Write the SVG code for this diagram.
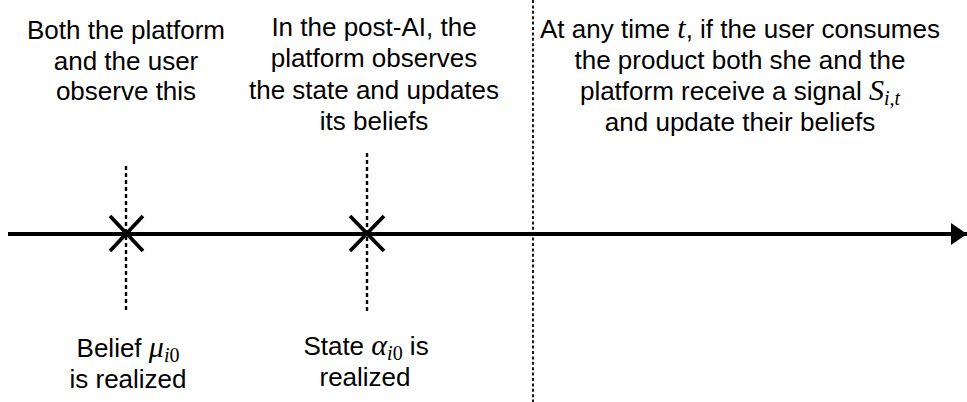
<svg xmlns="http://www.w3.org/2000/svg" width="967" height="402" viewBox="0 0 967 402">
  <style>
    .lbl { font-family: "Liberation Sans", Arial, Helvetica, sans-serif; font-size: 26px; fill: #000; text-anchor: middle; }
    .m { font-family: "Liberation Serif", "Times New Roman", serif; font-style: italic; font-size: 30px; }
    .sub { font-family: "Liberation Serif", "Times New Roman", serif; font-style: italic; font-size: 20px; }
    .up { font-style: normal; }
    .guide { stroke: #000; stroke-width: 2.4; stroke-dasharray: 4 3; fill: none; }
    .divider { stroke: #000; stroke-width: 1.8; stroke-dasharray: 3 2.4; fill: none; }
    .cross { stroke: #000; stroke-width: 3.8; fill: none; }
  </style>
  <defs>
    <marker id="head" markerUnits="userSpaceOnUse" markerWidth="17" markerHeight="22" refX="16" refY="11" orient="auto">
      <path d="M0,0 L16,11 L0,22 Z" fill="#000"/>
    </marker>
  </defs>

  <rect width="967" height="402" fill="#fff"/>

  <!-- connectors: time axis, guide lines and period divider -->
  <g id="connectors">
    <line x1="8" y1="234" x2="967" y2="234" stroke="#000" stroke-width="4" marker-end="url(#head)"/>
    <line class="guide" x1="126" y1="166" x2="126" y2="312"/>
    <line class="guide" x1="367" y1="153" x2="367" y2="312"/>
    <line class="divider" x1="533" y1="0" x2="533" y2="402"/>
  </g>

  <!-- event: initial belief -->
  <g id="event-belief">
    <path class="cross" d="M110,216 L143,251 M143,216 L110,251"/>
    <text class="lbl" x="128" y="357">Belief <tspan class="m">μ</tspan><tspan class="sub" dy="5">i</tspan><tspan class="sub up">0</tspan></text>
    <text class="lbl" x="128" y="388">is realized</text>
  </g>

  <!-- event: state realization -->
  <g id="event-state">
    <path class="cross" d="M350,216 L384,251 M384,216 L350,251"/>
    <text class="lbl" x="366" y="355">State <tspan class="m">α</tspan><tspan class="sub" dy="5">i</tspan><tspan class="sub up">0</tspan><tspan dy="-5"> is</tspan></text>
    <text class="lbl" x="365" y="386">realized</text>
  </g>

  <!-- note above the first event -->
  <g id="note-observe">
    <text class="lbl" x="126" y="39">Both the platform</text>
    <text class="lbl" x="126" y="70">and the user</text>
    <text class="lbl" x="126" y="100">observe this</text>
  </g>

  <!-- note above the second event -->
  <g id="note-post-ai">
    <text class="lbl" x="374" y="36">In the post-AI, the</text>
    <text class="lbl" x="374" y="67">platform observes</text>
    <text class="lbl" x="374" y="99">the state and updates</text>
    <text class="lbl" x="374" y="130">its beliefs</text>
  </g>

  <!-- note for the consumption period -->
  <g id="note-signal">
    <text class="lbl" x="740" y="38">At any time <tspan class="m">t</tspan>, if the user consumes</text>
    <text class="lbl" x="740" y="69">the product both she and the</text>
    <text class="lbl" x="740" y="100">platform receive a signal <tspan class="m">S</tspan><tspan class="sub" dy="5">i,t</tspan></text>
    <text class="lbl" x="740" y="131">and update their beliefs</text>
  </g>
</svg>
